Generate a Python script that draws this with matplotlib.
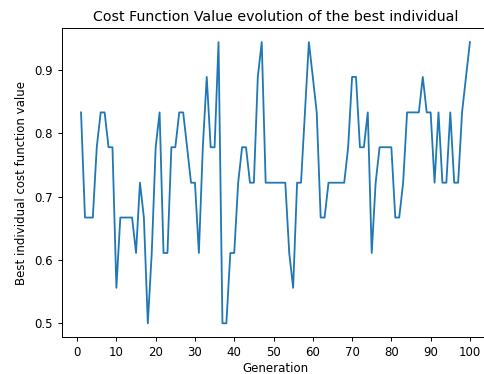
import matplotlib
matplotlib.use("Agg")
import matplotlib.pyplot as plt
import numpy as np

# best individual cost per generation
generations = np.arange(1, 101)
best_cost = [
    0.833, 0.667, 0.667, 0.667, 0.778, 0.833, 0.833, 0.778, 0.778, 0.556,
    0.667, 0.667, 0.667, 0.667, 0.611, 0.722, 0.667, 0.500, 0.611, 0.778,
    0.833, 0.611, 0.611, 0.778, 0.778, 0.833, 0.833, 0.778, 0.722, 0.722,
    0.611, 0.778, 0.889, 0.778, 0.778, 0.944, 0.500, 0.500, 0.611, 0.611,
    0.722, 0.778, 0.778, 0.722, 0.722, 0.889, 0.944, 0.722, 0.722, 0.722,
    0.722, 0.722, 0.722, 0.611, 0.556, 0.722, 0.722, 0.833, 0.944, 0.889,
    0.833, 0.667, 0.667, 0.722, 0.722, 0.722, 0.722, 0.722, 0.778, 0.889,
    0.889, 0.778, 0.778, 0.833, 0.611, 0.722, 0.778, 0.778, 0.778, 0.778,
    0.667, 0.667, 0.722, 0.833, 0.833, 0.833, 0.833, 0.889, 0.833, 0.833,
    0.722, 0.833, 0.722, 0.722, 0.833, 0.722, 0.722, 0.833, 0.889, 0.944,
]

plt.rcParams['font.size'] = 8.5
plt.rcParams['axes.linewidth'] = 0.7
plt.rcParams['xtick.major.size'] = 3
plt.rcParams['ytick.major.size'] = 3
plt.rcParams['xtick.major.width'] = 0.7
plt.rcParams['ytick.major.width'] = 0.7

fig = plt.figure(figsize=(4.85, 3.74), dpi=100)
# axes run slightly past the right edge of the canvas
ax = fig.add_axes([0.127, 0.098, 0.882, 0.827])

ax.plot(generations, best_cost, color='#1f77b4', linewidth=1.3)
ax.set_title('Cost Function Value evolution of the best individual', pad=5)
ax.set_xlabel('Generation', labelpad=2)
ax.set_ylabel('Best individual cost function value')
ax.set_xticks(np.arange(0, 101, 10))

fig.savefig('out.png', dpi=100)
